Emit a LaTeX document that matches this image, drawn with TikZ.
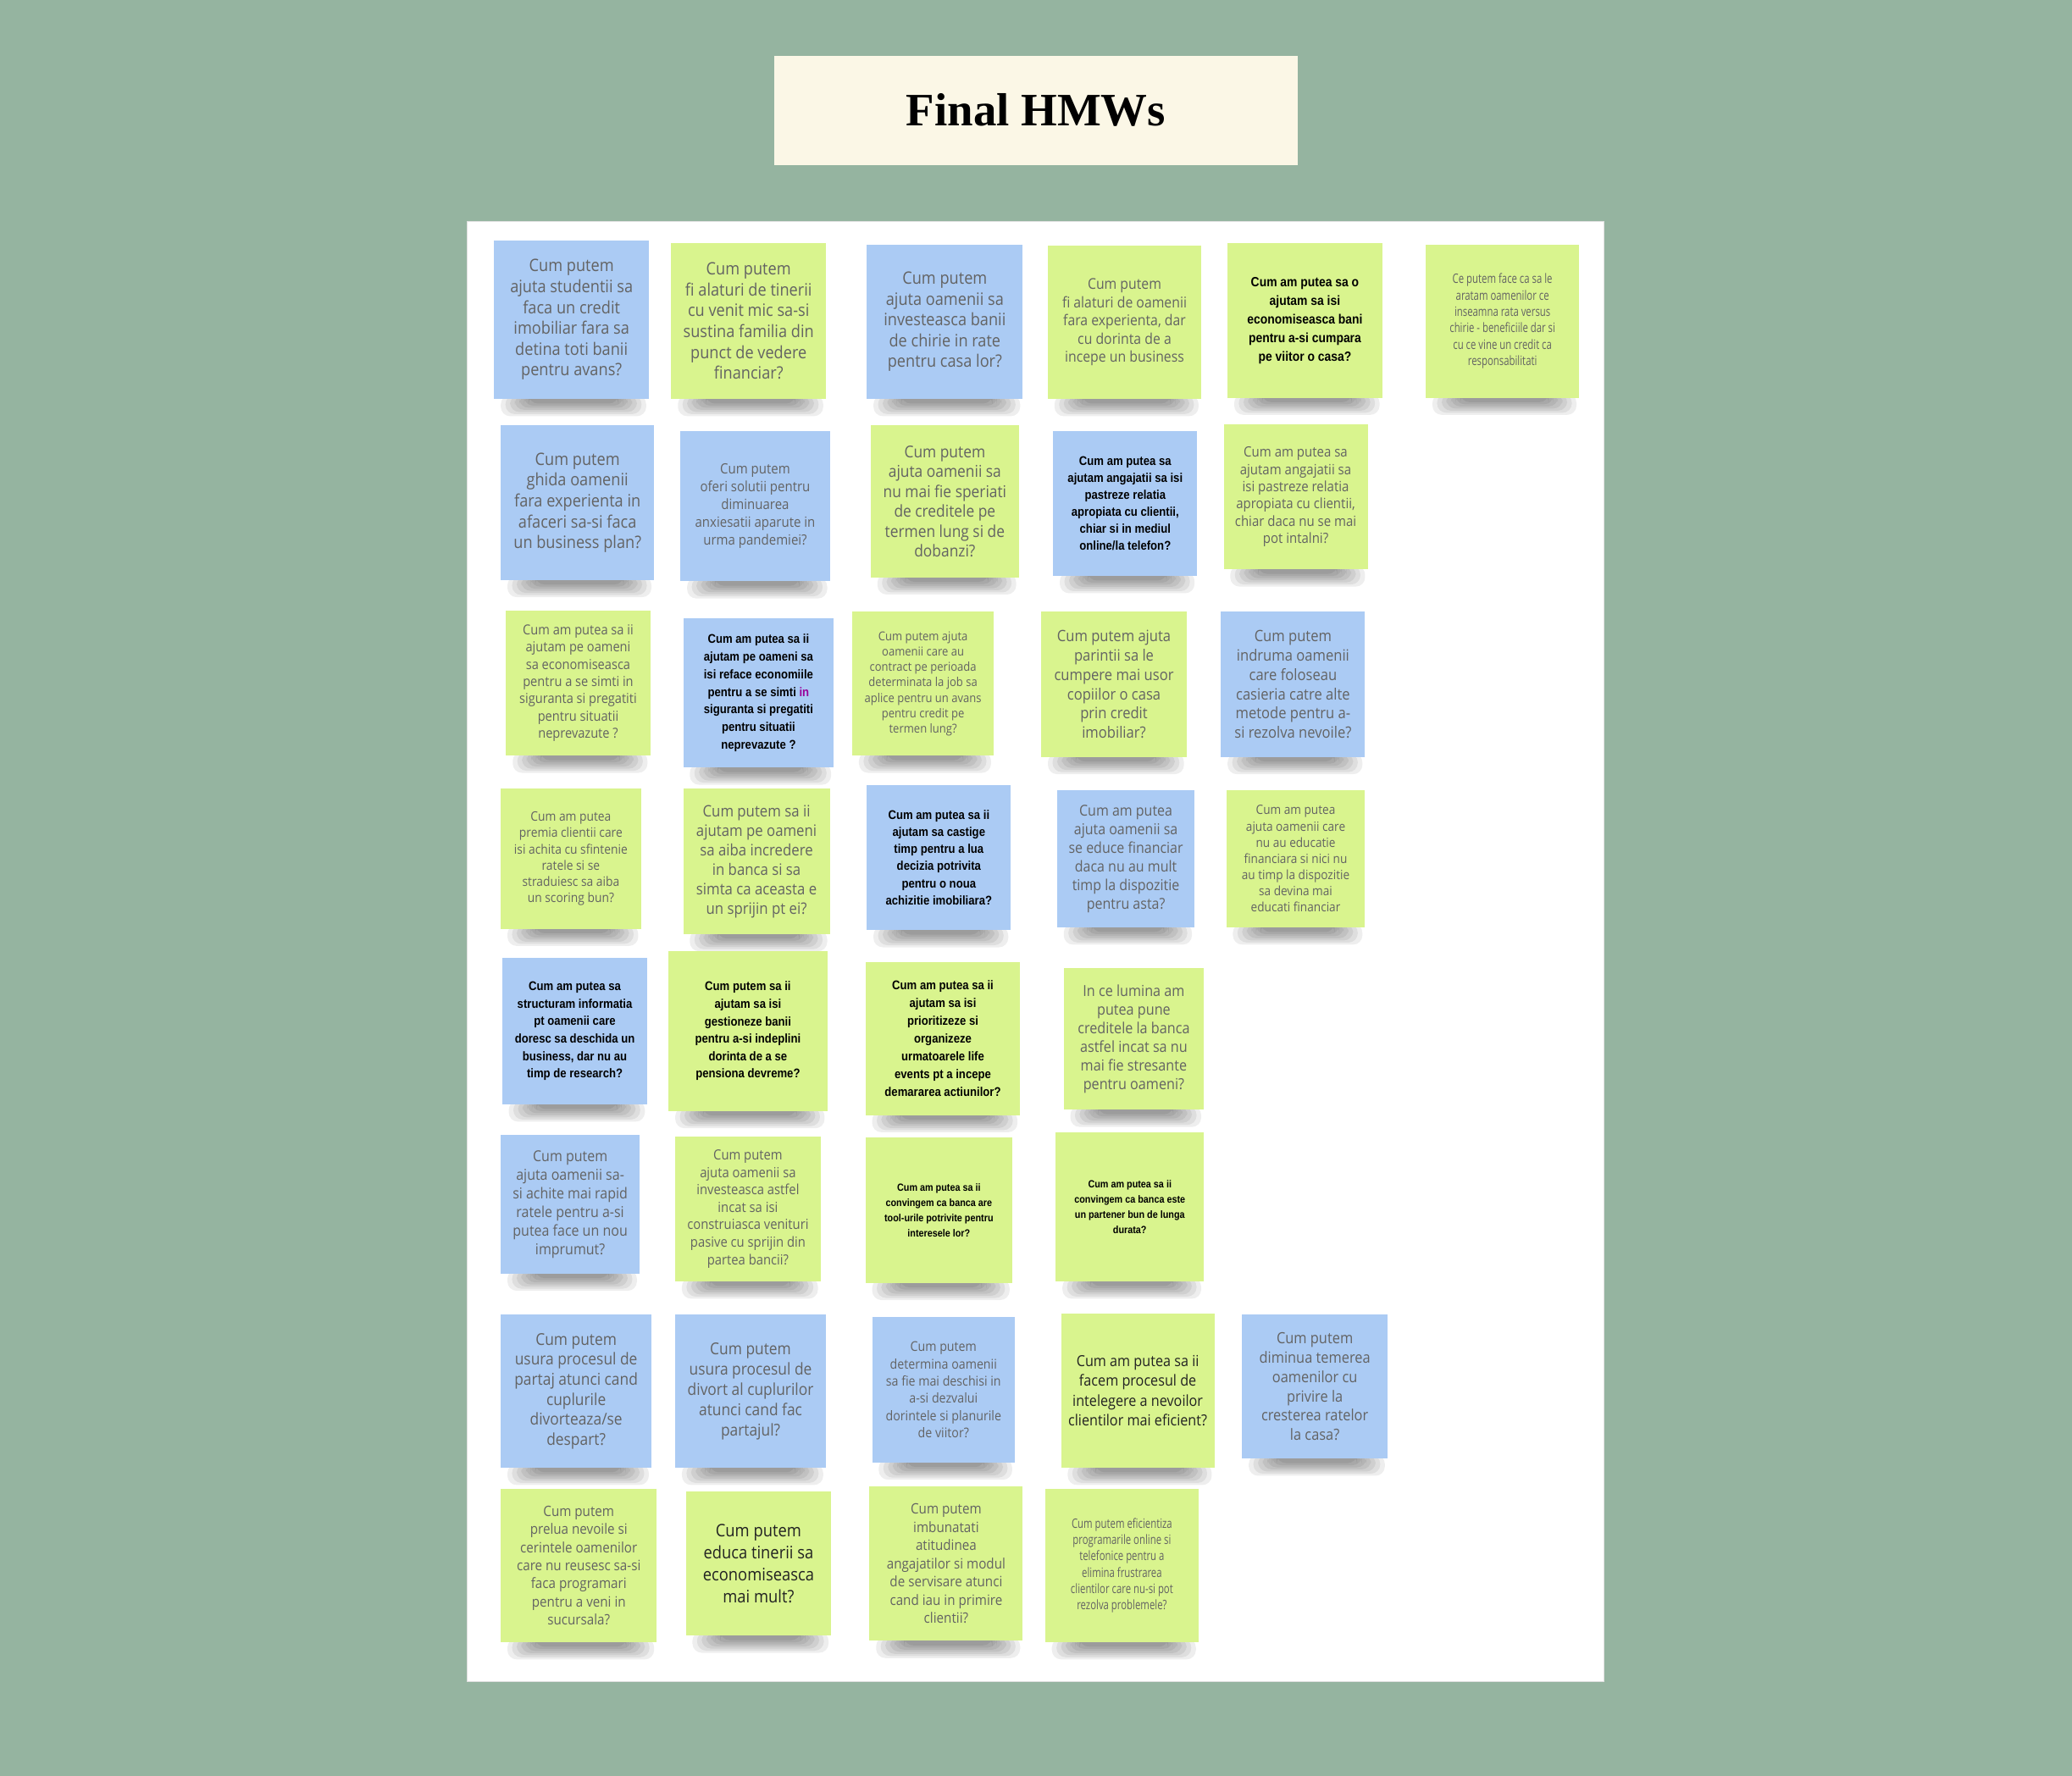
\documentclass[tikz,border=0pt]{standalone}
\usepackage{fontspec}
\newfontfamily\gfont[FakeStretch=0.9]{Open Sans}
\newfontfamily\cfont[FakeStretch=0.74]{Open Sans}
\newfontfamily\bfont[FakeStretch=0.88]{Liberation Sans}
\newfontfamily\tfont{Liberation Serif}
\definecolor{sage}{HTML}{95B4A0}
\definecolor{cream}{HTML}{FBF7E6}
\definecolor{bnote}{HTML}{ABCBF4}
\definecolor{gnote}{HTML}{D9F48E}
\definecolor{gtext}{HTML}{636363}
\definecolor{dtext}{HTML}{222222}
\tikzset{
  notebox/.style={draw=none,inner sep=0,outer sep=0},
  tx/.style 2 args={font=\gfont\fontsize{#1}{#2}\selectfont,text=gtext,align=center,inner sep=0},
  cx/.style 2 args={font=\cfont\fontsize{#1}{#2}\selectfont,text=gtext,align=center,inner sep=0},
  dx/.style 2 args={font=\gfont\fontsize{#1}{#2}\selectfont,text=dtext,align=center,inner sep=0},
  bx/.style 2 args={font=\bfont\bfseries\fontsize{#1}{#2}\selectfont,text=black,align=center,inner sep=0},
}
\newcommand\hmw[8]{%
  \pgfmathsetmacro\nw{(#4-#2)*0.025}\pgfmathsetmacro\nh{(#5-#3)*0.025}%
  \foreach \k in {0,...,6}{%
    \fill[black,opacity=.065,rounded corners=5] (#2+5+3.5*\k,#5-3) rectangle (#4-2-3.5*\k,#5+13-1.6*\k);}
  \node[notebox,fill=#6,minimum width=\nw cm,minimum height=\nh cm,anchor=north west] (#1) at (#2,#3) {};
  \node[#7] (#1t) at (#1.center) {#8};
}
\begin{document}
\begin{tikzpicture}[x=0.025cm,y=-0.025cm]
\useasboundingbox (0,0) rectangle (1568,1344);
\fill[sage] (0,0) rectangle (1568,1344);
% title
\node[fill=cream,minimum width=9.9cm,minimum height=2.075cm,inner sep=0,
  font=\tfont\bfseries\fontsize{25}{30}\selectfont] (title) at (784,83.5) {Final HMWs};
% board
\node[fill=white,draw=black!12,line width=0.6pt,minimum width=21.5cm,minimum height=27.625cm,
  anchor=north west,inner sep=0] (board) at (353,167) {};
% row 1
\hmw{n11}{374}{182}{491}{302}{bnote}{tx={9.2}{11.2}}{Cum putem\\ajuta studentii sa\\faca un credit\\imobiliar fara sa\\detina toti banii\\pentru avans?}
\hmw{n12}{508}{184}{625}{302}{gnote}{tx={9.2}{11.2}}{Cum putem\\fi alaturi de tinerii\\cu venit mic sa-si\\sustina familia din\\punct de vedere\\financiar?}
\hmw{n13}{656}{185}{774}{302}{bnote}{tx={9.2}{11.2}}{Cum putem\\ajuta oamenii sa\\investeasca banii\\de chirie in rate\\pentru casa lor?}
\hmw{n14}{793}{186}{909}{302}{gnote}{tx={8}{9.8}}{Cum putem\\fi alaturi de oamenii\\fara experienta, dar\\cu dorinta de a\\incepe un business}
\hmw{n15}{929}{184}{1046}{301}{gnote}{bx={7.2}{10}}{Cum am putea sa o\\ajutam sa isi\\economiseasca bani\\pentru a-si cumpara\\pe viitor o casa?}
\hmw{n16}{1079}{185}{1195}{301}{gnote}{cx={7}{8.8}}{Ce putem face ca sa le\\aratam oamenilor ce\\inseamna rata versus\\chirie - beneficiile dar si\\cu ce vine un credit ca\\responsabilitati}
% row 2
\hmw{n21}{379}{322}{495}{439}{bnote}{tx={9.2}{11.2}}{Cum putem\\ghida oamenii\\fara experienta in\\afaceri sa-si faca\\un business plan?}
\hmw{n22}{515}{326}{628}{440}{bnote}{tx={7.6}{9.5}}{Cum putem\\oferi solutii pentru\\diminuarea\\anxiesatii aparute in\\urma pandemiei?}
\hmw{n23}{659}{322}{771}{437}{gnote}{tx={8.8}{10.7}}{Cum putem\\ajuta oamenii sa\\nu mai fie speriati\\de creditele pe\\termen lung si de\\dobanzi?}
\hmw{n24}{797}{326}{906}{436}{bnote}{bx={6.8}{9.1}}{Cum am putea sa\\ajutam angajatii sa isi\\pastreze relatia\\apropiata cu clientii,\\chiar si in mediul\\online/la telefon?}
\hmw{n25}{926}{321}{1035}{431}{gnote}{tx={7.6}{9.25}}{Cum am putea sa\\ajutam angajatii sa\\isi pastreze relatia\\apropiata cu clientii,\\chiar daca nu se mai\\pot intalni?}
% row 3
\hmw{n31}{383}{462}{492}{572}{gnote}{tx={7.4}{9.25}}{Cum am putea sa ii\\ajutam pe oameni\\sa  economiseasca\\pentru a se simti in\\siguranta si pregatiti\\pentru situatii\\neprevazute ?}
\hmw{n32}{517}{468}{631}{581}{bnote}{bx={6.8}{9.5}}{Cum am putea sa ii\\ajutam pe oameni sa\\isi reface economiile\\pentru a se simti \textcolor{violet!80!magenta}{in}\\siguranta si  pregatiti\\pentru situatii\\neprevazute ?}
\hmw{n33}{645}{463}{752}{572}{gnote}{tx={6.6}{8.3}}{Cum putem ajuta\\oamenii care au\\contract pe perioada\\determinata la job sa\\aplice pentru un avans\\pentru credit pe\\termen lung?}
\hmw{n34}{788}{463}{898}{573}{gnote}{tx={8.4}{10.4}}{Cum putem ajuta\\parintii sa le\\cumpere mai usor\\copiilor o casa\\prin credit\\imobiliar?}
\hmw{n35}{924}{463}{1033}{573}{bnote}{tx={8.4}{10.4}}{Cum putem\\indruma oamenii\\care foloseau\\casieria catre alte\\metode pentru a-\\si rezolva nevoile?}
% row 4
\hmw{n41}{379}{597}{485}{703}{gnote}{tx={7}{8.8}}{Cum am putea\\premia clientii care\\isi achita cu sfintenie\\ratele si se\\straduiesc sa aiba\\un scoring bun?}
\hmw{n42}{517}{597}{628}{707}{gnote}{tx={8.5}{10.5}}{Cum putem sa ii\\ajutam pe oameni\\sa aiba incredere\\in banca si sa\\simta ca aceasta e\\un sprijin pt ei?}
\hmw{n43}{656}{594}{765}{704}{bnote}{bx={6.8}{9.25}}{Cum am putea sa ii\\ajutam sa castige\\timp pentru a lua\\decizia potrivita\\pentru o noua\\achizitie imobiliara?}
\hmw{n44}{800}{598}{904}{702}{bnote}{tx={8.1}{10}}{Cum am putea\\ajuta oamenii sa\\se educe financiar\\daca nu au mult\\timp la dispozitie\\pentru asta?}
\hmw{n45}{928}{598}{1033}{702}{gnote}{tx={6.9}{8.75}}{Cum am putea\\ajuta oamenii care\\nu au educatie\\financiara si nici nu\\au timp la dispozitie\\sa devina mai\\educati financiar}
% row 5
\hmw{n51}{380}{725}{490}{836}{bnote}{bx={6.8}{9.4}}{Cum am putea sa\\structuram informatia\\pt oamenii care\\doresc sa deschida un\\business, dar nu au\\timp de research?}
\hmw{n52}{506}{720}{626}{841}{gnote}{bx={6.8}{9.4}}{Cum putem sa ii\\ajutam sa isi\\gestioneze banii\\pentru a-si indeplini\\dorinta de a se\\pensiona devreme?}
\hmw{n53}{655}{728}{772}{844}{gnote}{bx={6.8}{9.6}}{Cum am putea sa ii\\ajutam sa isi\\prioritizeze si\\organizeze\\urmatoarele life\\events pt a incepe\\demararea actiunilor?}
\hmw{n54}{805}{733}{911}{840}{gnote}{tx={8.2}{10.1}}{In ce lumina am\\putea pune\\creditele la banca\\astfel incat sa nu\\mai fie stresante\\pentru oameni?}
% row 6
\hmw{n61}{379}{859}{484}{964}{bnote}{tx={8.1}{10}}{Cum putem\\ajuta oamenii sa-\\si achite mai rapid\\ratele pentru a-si\\putea face un nou\\imprumut?}
\hmw{n62}{511}{860}{621}{970}{gnote}{tx={7.5}{9.4}}{Cum putem\\ajuta oamenii sa\\investeasca astfel\\incat sa isi\\construiasca venituri\\pasive cu sprijin din\\partea bancii?}
\hmw{n63}{655}{861}{766}{971}{gnote}{bx={5.6}{8.3}}{Cum am putea sa ii\\convingem ca banca are\\tool-urile potrivite pentru\\interesele lor?}
\hmw{n64}{799}{857}{911}{970}{gnote}{bx={5.6}{8.3}}{Cum am putea sa ii\\convingem ca banca este\\un partener bun de lunga\\durata?}
% row 7
\hmw{n71}{379}{995}{493}{1111}{bnote}{tx={8.8}{10.8}}{Cum putem\\usura procesul de\\partaj atunci cand\\cuplurile\\divorteaza/se\\despart?}
\hmw{n72}{511}{995}{625}{1111}{bnote}{tx={8.8}{11}}{Cum putem\\usura procesul de\\divort al cuplurilor\\atunci cand fac\\partajul?}
\hmw{n73}{660}{997}{768}{1107}{bnote}{tx={7.2}{9.25}}{Cum putem\\determina oamenii\\sa fie mai deschisi in\\a-si dezvalui\\dorintele si planurile\\de viitor?}
\hmw{n74}{803}{994}{919}{1111}{gnote}{dx={8.2}{10.7}}{Cum am putea sa ii\\facem procesul de\\intelegere a nevoilor\\clientilor mai eficient?}
\hmw{n75}{940}{995}{1050}{1104}{bnote}{tx={8.3}{10.4}}{Cum putem\\diminua temerea\\oamenilor cu\\privire la\\cresterea ratelor\\la casa?}
% row 8
\hmw{n81}{379}{1127}{497}{1243}{gnote}{tx={7.7}{9.75}}{Cum putem\\prelua nevoile si\\cerintele oamenilor\\care nu reusesc sa-si\\faca programari\\pentru a veni in\\sucursala?}
\hmw{n82}{519}{1129}{629}{1238}{gnote}{dx={9.3}{11.9}}{Cum putem\\educa tinerii sa\\economiseasca\\mai mult?}
\hmw{n83}{658}{1125}{774}{1242}{gnote}{tx={7.7}{9.8}}{Cum putem\\imbunatati\\atitudinea\\angajatilor si modul\\de servisare atunci\\cand iau in primire\\clientii?}
\hmw{n84}{791}{1127}{907}{1243}{gnote}{cx={7}{8.8}}{Cum putem eficientiza\\programarile online si\\telefonice pentru a\\elimina frustrarea\\clientilor care nu-si pot\\rezolva problemele?}
\end{tikzpicture}
\end{document}
